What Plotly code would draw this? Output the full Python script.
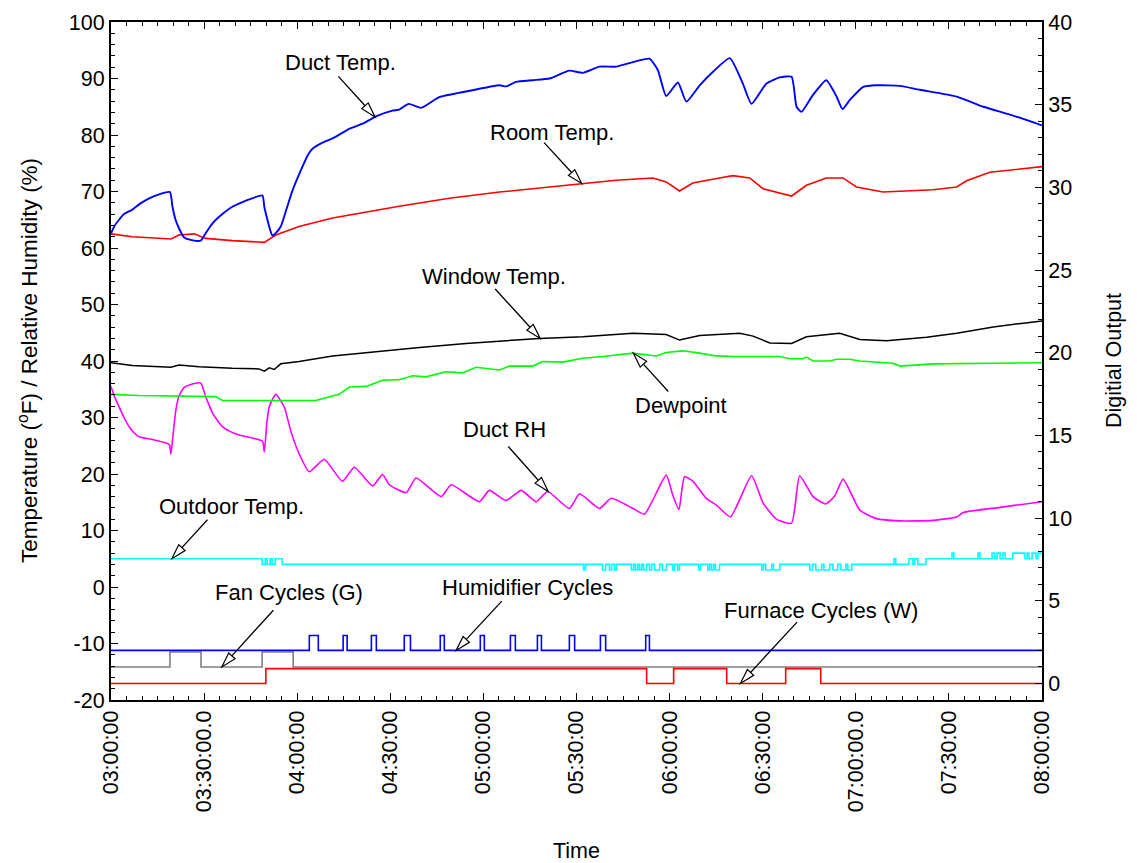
import math
import plotly.graph_objects as go

# Time axis: minutes after 03:00
tick_minutes = [0, 30, 60, 90, 120, 150, 180, 210, 240, 270, 300]
tick_labels = ["03:00:00", "03:30:00.0", "04:00:00", "04:30:00", "05:00:00",
               "05:30:00", "06:00:00", "06:30:00", "07:00:00.0", "07:30:00", "08:00:00"]
temp_ticks = [-20, -10, 0, 10, 20, 30, 40, 50, 60, 70, 80, 90, 100]
temp_tick_labels = ["-20", "-10", "0", "10", "20", "30", "40", "50", "60", "70", "80", "90", "100"]

# Analog channels (left axis, deg F / %RH)
duct_t = [0.0, 1.2, 2.6, 4.2, 6.9, 9.5, 12.3, 15.5, 19.0, 19.8, 20.8, 21.9, 23.5, 26.0, 28.9,
          30.5, 32.2, 33.8, 36.5, 39.1, 41.8, 44.5, 48.8,
          49.4, 50.4, 51.4, 52.0, 53.0, 54.7, 56.5, 58.5, 61.7, 63.5, 65.0, 68.0, 71.4, 76.8,
          81.1, 85.4, 90.7, 92.9, 95.1,
          96.1, 99.9, 105.8, 114.4, 125.2, 127.3, 130.5, 135.9, 141.3, 147.7, 152.0, 157.4,
          162.8, 168.2, 173.5, 176.2, 178.9, 182.7, 185.4, 189.7, 194.0, 199.4, 203.6, 206.4,
          211.2, 215.5, 219.3, 220.9, 222.5, 226.2, 230.5, 233.8, 235.7, 238.1, 242.4, 246.7,
          254.2, 260.6, 272.5, 281.1, 289.7, 300.0]
duct_temp = [62.6, 64.0, 65.0, 66.0, 66.8, 67.9, 68.8, 69.5, 69.9, 67.3, 65.0, 63.5, 61.9, 61.4, 61.3,
             62.6, 64.0, 65.0, 66.3, 67.3, 68.0, 68.6, 69.3,
             67.3, 65.0, 63.0, 62.2, 62.6, 63.8, 66.8, 70.2, 74.4, 76.5, 77.6, 78.6, 79.4, 81.1,
             82.0, 83.3, 84.3, 84.5, 85.3,
             85.5, 84.8, 86.7, 87.7, 88.8, 88.6, 89.4, 89.7, 90.0, 91.4, 91.0, 92.1,
             92.1, 92.9, 93.5, 91.5, 86.9, 89.3, 85.9, 88.8, 91.2, 93.6, 89.1, 85.5,
             89.1, 90.2, 90.3, 85.0, 84.1, 87.1, 89.7, 86.8, 84.6, 86.2, 88.5, 88.8,
             88.7, 88.0, 86.8, 85.0, 83.6, 81.7]

room_t = [0, 6.9, 19.3, 21.9, 26.8, 30.5, 39.1, 49.4, 53.1, 60.6, 71.4, 82.2, 92.9, 109.0,
          125.2, 141.3, 151.5, 162.8, 174.6, 178.9, 183.2, 187.5, 196.1, 200.4, 205.8, 210.1,
          219.3, 224.1, 230.5, 235.9, 240.2, 248.8, 264.9, 272.5, 275.7, 283.2, 300]
room_temp = [62.5, 62.0, 61.6, 62.3, 62.5, 61.7, 61.3, 61.0, 62.3, 63.8, 65.3, 66.4, 67.4, 68.8,
             69.9, 70.8, 71.4, 72.0, 72.4, 71.7, 70.1, 71.5, 72.4, 72.8, 72.4, 70.5,
             69.2, 71.1, 72.4, 72.4, 70.8, 69.9, 70.3, 70.8, 71.9, 73.4, 74.4]

window_t = [0, 6.9, 19.3, 21.9, 28.4, 39.1, 47.7, 49.4, 51.0, 52.6, 54.7, 60.6, 71.4, 82.2,
            92.9, 99.4, 114.4, 138.1, 152.0, 168.2, 178.9, 183.2, 189.7, 202.6, 206.9, 212.3,
            219.3, 224.1, 234.8, 241.3, 249.9, 262.8, 272.5, 284.3, 294.0, 300]
window_temp = [39.7, 39.2, 38.9, 39.3, 39.0, 38.7, 38.6, 38.2, 38.8, 38.5, 39.5, 39.9, 40.9, 41.5,
               42.0, 42.4, 43.1, 44.0, 44.3, 44.9, 44.7, 43.7, 44.5, 44.9, 44.4, 43.2,
               43.1, 44.3, 44.9, 43.8, 43.6, 44.2, 44.9, 46.0, 46.7, 47.1]

dew_t = [0, 9.0, 33.8, 35.9, 66.0, 69.3, 73.5, 76.8, 82.2, 87.5, 92.9, 97.2, 101.5, 107.9,
         113.3, 117.6, 125.2, 128.4, 135.9, 139.1, 145.6, 152.0, 158.5, 168.2, 175.7, 178.9,
         184.3, 189.7, 195.1, 200.4, 215.5, 218.7, 222.9, 224.1, 226.2, 231.6, 233.8, 238.1,
         241.3, 252.0, 254.2, 264.9, 286.5, 300]
dewpoint = [34.1, 33.9, 33.7, 33.0, 33.0, 33.5, 34.1, 35.4, 35.5, 36.6, 36.7, 37.4, 37.2, 38.1,
            37.9, 38.9, 38.4, 39.1, 39.1, 39.9, 39.8, 40.5, 40.8, 41.4, 40.9, 41.5,
            41.8, 41.4, 40.9, 40.8, 40.8, 40.4, 40.4, 40.7, 40.0, 40.0, 40.3, 40.3,
            40.0, 39.6, 39.1, 39.5, 39.7, 39.7]

rh_t = [0, 1.2, 2.6, 4.2, 5.8, 7.4, 9.0, 13.3, 18.2, 18.9, 19.3, 20.2, 20.9, 21.9, 23.5, 25.5,
        28.9, 30.5, 33.0, 35.9, 38.5, 41.3, 48.8,
        49.4, 50.2, 51.0, 53.1, 55.8, 58.0, 60.6, 63.9, 68.7, 74.6, 78.4, 84.3, 87.5, 89.7, 95.1, 98.3,
        106.4, 109.6, 118.7, 121.9, 127.3, 132.2, 137.0, 140.7, 147.7, 151.0, 157.4, 161.2,
        168.2, 171.9, 178.9, 181.0, 183.0, 184.8, 187.4, 191.8, 195.1, 199.6, 206.4, 210.1,
        214.4, 219.3, 221.9, 226.2, 230.3, 233.2, 235.9, 241.3, 246.7, 254.2, 264.9, 272.5,
        274.6, 286.5, 300]
duct_rh = [35.5, 33.6, 31.9, 30.0, 28.4, 27.3, 26.6, 26.1, 25.4, 25.1, 23.5, 28.0, 31.3, 33.8, 35.3, 35.8,
           36.1, 33.7, 30.5, 28.4, 27.5, 26.9, 25.8,
           23.9, 29.0, 31.9, 34.1, 31.9, 27.5, 23.6, 20.4, 22.6, 18.7, 21.2, 17.9, 19.9, 18.1, 16.7, 19.3,
           16.0, 18.1, 15.1, 17.1, 15.3, 17.1, 15.1, 16.9, 13.9, 16.5, 13.9, 15.7,
           13.9, 12.9, 19.8, 16.3, 13.7, 19.5, 18.8, 15.7, 14.5, 12.4, 19.7, 14.9,
           12.0, 11.3, 19.7, 16.0, 14.7, 16.1, 19.1, 13.6, 12.1, 11.7, 11.8, 12.4,
           13.2, 14.1, 15.1]

# Outdoor temperature: quantised sensor, value changes only at listed times
outdoor_t = [0, 48.7, 49.7, 50.3, 51.3, 51.9, 52.9, 55.2,
             152.3, 152.9, 158.4, 159.4, 160.6, 161.3, 162.3, 162.9,
             167.7, 168.4, 169.0, 169.7, 170.3, 171.0, 171.6, 172.6,
             173.5, 174.2, 175.2, 176.8, 177.7, 179.0, 181.0, 181.6, 182.6, 183.2,
             189.4, 190.0, 192.3, 192.9, 193.5, 194.2, 194.8, 196.1,
             209.7, 210.3, 211.0, 212.9, 213.5, 215.5,
             225.2, 226.1, 227.1, 229.0, 229.7, 231.6, 232.6, 234.2, 235.2, 236.8, 237.4, 238.7,
             252.3, 252.9, 257.1, 258.4, 259.0, 260.0, 262.6,
             271.0, 271.6, 279.4, 280.0, 283.9, 284.8, 285.5, 286.5, 287.4, 288.1, 290.6,
             294.5, 295.2, 295.8, 296.8, 298.1, 298.7, 300]
outdoor_temp = [5, 4, 5, 4, 5, 4, 5, 4,
                3, 4, 3, 4, 3, 4, 3, 4,
                3, 4, 3, 4, 3, 4, 3, 4,
                3, 4, 3, 4, 3, 4, 3, 4, 3, 4,
                3, 4, 3, 4, 3, 4, 3, 4,
                3, 4, 3, 4, 3, 4,
                3, 4, 3, 4, 3, 4, 3, 4, 3, 4, 3, 4,
                5, 4, 5, 4, 5, 4, 5,
                6, 5, 6, 5, 6, 5, 6, 5, 6, 5, 6,
                5, 6, 5, 6, 5, 6, 6]

# Digital channels (right axis)
furnace_t = [0, 49.9, 172.6, 181.3, 198.4, 217.4, 228.7, 300]
furnace_w = [0, 0.9, 0, 0.9, 0, 0.9, 0, 0]
fan_t = [0, 19.0, 29.0, 48.7, 58.7, 300]
fan_g = [1, 1.9, 1, 1.9, 1, 1]
humid_on = [63.9, 74.8, 83.9, 94.5, 106.1, 119.0, 128.7, 137.4, 147.7, 157.7, 172.3]
humid_off = [66.8, 76.1, 85.5, 96.5, 107.4, 120.3, 130.3, 138.7, 149.4, 159.4, 173.5]
humid_low, humid_high = 2.0, 2.9

humid_t, humid_v = [0], [humid_low]
for a, b in zip(humid_on, humid_off):
    humid_t += [a, b]
    humid_v += [humid_high, humid_low]
humid_t.append(300)
humid_v.append(humid_low)

# ---- geometry ----
W, H = 1137, 863
ML, MR, MT, MB = 111, 95, 22, 163
PW, PH = W - ML - MR, H - MT - MB
X_RANGE = [0, 300]
Y_RANGE = [-20, 100]
Y2_RANGE = [-1, 40]
XS = PW / (X_RANGE[1] - X_RANGE[0])
YS = PH / (Y_RANGE[1] - Y_RANGE[0])
Y2S = PH / (Y2_RANGE[1] - Y2_RANGE[0])

FONT = "Liberation Sans, Arial, sans-serif"

fig = go.Figure()


def add_line(x, y, color, width=1.6, yaxis="y", shape="linear", smoothing=None):
    line = dict(color=color, width=width, shape=shape)
    if smoothing is not None:
        line["smoothing"] = smoothing
    fig.add_trace(go.Scatter(x=x, y=y, mode="lines", yaxis=yaxis, line=line,
                             showlegend=False, hoverinfo="skip"))


add_line(outdoor_t, outdoor_temp, "#00FFFF", 1.6, shape="hv")
add_line(rh_t, duct_rh, "#FF00FF", 1.6, shape="spline", smoothing=0.5)
add_line(dew_t, dewpoint, "#00FF00", 1.6)
add_line(window_t, window_temp, "#000000", 1.5)
add_line(room_t, room_temp, "#FF0000", 1.6)
add_line(duct_t, duct_temp, "#0000FF", 1.9, shape="spline", smoothing=0.5)
add_line(fan_t, fan_g, "#808080", 1.6, yaxis="y2", shape="hv")
add_line(furnace_t, furnace_w, "#FF0000", 1.6, yaxis="y2", shape="hv")
add_line(humid_t, humid_v, "#0000FF", 1.6, yaxis="y2", shape="hv")

# ---- callouts: label, label centre, axis, arrow tip, tail offset (px) ----
callouts = [
    ("Duct Temp.",          73.8, 92.9, "y",  85.1, 83.2, -36.7, -40.6),
    ("Room Temp.",         142.1, 80.4, "y", 151.7, 71.4, -37.7, -41.0),
    ("Window Temp.",       123.4, 55.0, "y", 138.3, 44.0, -45.0, -49.4),
    ("Dewpoint",           183.7, 32.2, "y", 168.3, 41.4, 35.0, 38.4),
    ("Duct RH",            126.7, 27.8, "y", 140.9, 16.9, -40.0, -45.0),
    ("Outdoor Temp.",       38.7, 14.2, "y",  19.6, 5.0, 35.6, -39.0),
    ("Fan Cycles (G)",      57.4, -0.9, "y2", 35.7, 1.0, 51.6, -56.7),
    ("Humidifier Cycles",  134.1, 0.0, "y2", 111.2, 2.0, 45.7, -49.3),
    ("Furnace Cycles (W)", 228.8, -4.1, "y2", 202.8, 0.0, 56.7, -61.3),
]

shapes = []
annotations = []
HEAD_LEN, HEAD_HALF = 15.0, 4.3
for text, tx, ty, yref, px, py, dx, dy in callouts:
    annotations.append(dict(x=tx, y=ty, xref="x", yref="y", text=text, showarrow=False,
                            font=dict(family=FONT, size=22, color="black"),
                            xanchor="center", yanchor="middle"))
    ys = YS if yref == "y" else Y2S
    length = math.hypot(dx, dy)
    ux, uy = -dx / length, -dy / length  # tail -> tip direction in pixels
    nx, ny = -uy, ux
    bx, by = -ux * HEAD_LEN, -uy * HEAD_LEN

    def to_data(ox, oy, px=px, py=py, ys=ys):
        return px + ox / XS, py - oy / ys

    x0, y0 = to_data(dx, dy)
    x1, y1 = to_data(bx, by)
    shapes.append(dict(type="line", xref="x", yref=yref, x0=x0, y0=y0, x1=x1, y1=y1,
                       line=dict(color="black", width=1.3), layer="above"))
    pts = [to_data(0, 0),
           to_data(bx + nx * HEAD_HALF, by + ny * HEAD_HALF),
           to_data(bx - nx * HEAD_HALF, by - ny * HEAD_HALF)]
    path = "M{:.4f},{:.4f} L{:.4f},{:.4f} L{:.4f},{:.4f} Z".format(
        pts[0][0], pts[0][1], pts[1][0], pts[1][1], pts[2][0], pts[2][1])
    shapes.append(dict(type="path", xref="x", yref=yref, path=path,
                       fillcolor="white", line=dict(color="black", width=1.2), layer="above"))

# axis titles
annotations += [
    dict(xref="paper", yref="paper", x=(28 - ML) / PW, y=0.5, textangle=-90,
         text="Temperature (<sup>o</sup>F) / Relative Humidity (%)", showarrow=False,
         font=dict(family=FONT, size=22.5, color="black"), xanchor="center", yanchor="middle"),
    dict(xref="paper", yref="paper", x=(1114 - ML) / PW, y=0.5, textangle=-90,
         text="Digitial Output", showarrow=False,
         font=dict(family=FONT, size=21.5, color="black"), xanchor="center", yanchor="middle"),
    dict(xref="paper", yref="paper", x=0.5, y=-(851 - MT - PH) / PH,
         text="Time", showarrow=False,
         font=dict(family=FONT, size=21.5, color="black"), xanchor="center", yanchor="middle"),
]

tickfont = dict(family=FONT, size=21.5, color="black")
fig.update_layout(
    width=W, height=H,
    margin=dict(l=ML, r=MR, t=MT, b=MB, autoexpand=False),
    paper_bgcolor="white", plot_bgcolor="white",
    showlegend=False,
    xaxis=dict(range=X_RANGE, tickvals=tick_minutes, ticktext=tick_labels, tickangle=-90,
               ticks="inside", ticklen=7, tickwidth=1.3, tickcolor="black",
               minor=dict(dtick=5, ticks="inside", ticklen=4, tickwidth=1, tickcolor="black"),
               showline=True, linewidth=2, linecolor="black", mirror="ticks",
               showgrid=False, zeroline=False, tickfont=tickfont),
    yaxis=dict(range=Y_RANGE, tickvals=temp_ticks, ticktext=temp_tick_labels,
               ticks="inside", ticklen=7, tickwidth=1.3, tickcolor="black",
               minor=dict(dtick=2, ticks="inside", ticklen=4, tickwidth=1, tickcolor="black"),
               showline=True, linewidth=2, linecolor="black",
               showgrid=False, zeroline=False, tickfont=tickfont),
    yaxis2=dict(range=Y2_RANGE, dtick=5, tick0=0, overlaying="y", side="right",
                ticks="inside", ticklen=7, tickwidth=1.3, tickcolor="black",
                minor=dict(dtick=1, ticks="inside", ticklen=4, tickwidth=1, tickcolor="black"),
                showline=True, linewidth=2, linecolor="black",
                showgrid=False, zeroline=False, tickfont=tickfont),
    shapes=shapes,
    annotations=annotations,
)

fig.write_html("out.html")
